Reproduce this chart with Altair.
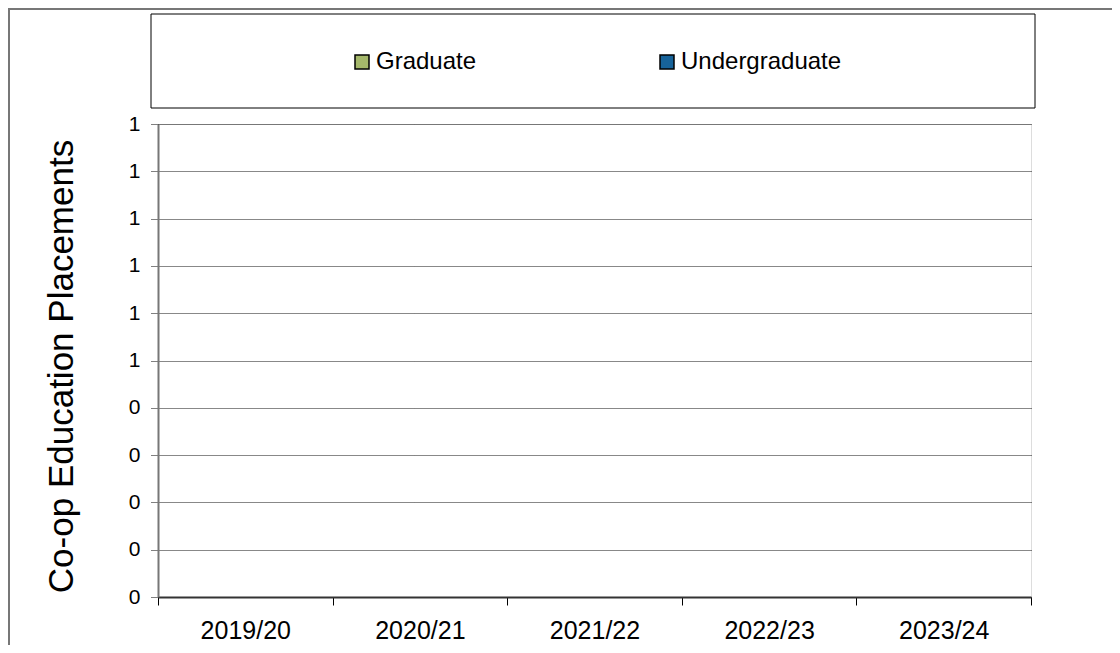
import altair as alt
import pandas as pd

years = ["2019/20", "2020/21", "2021/22", "2022/23", "2023/24"]
graduate = [0, 0, 0, 0, 0]
undergraduate = [0, 0, 0, 0, 0]
series = ["Graduate", "Undergraduate"]
colors = ["#A5B86B", "#17639A"]
y_ticks = [0, 0.1, 0.2, 0.3, 0.4, 0.5, 0.6, 0.7, 0.8, 0.9, 1.0]
y_title = "Co-op Education Placements"

rows = []
for i, yr in enumerate(years):
    rows.append({"year": yr, "level": series[0], "value": graduate[i], "o": 0})
    rows.append({"year": yr, "level": series[1], "value": undergraduate[i], "o": 1})
df = pd.DataFrame(rows)

FONT = "Liberation Sans"
W, H = 873, 473

bars = alt.Chart(df).mark_bar().encode(
    x=alt.X(
        "year:N",
        sort=years,
        scale=alt.Scale(paddingInner=0, paddingOuter=0),
        axis=alt.Axis(
            title=None, labelAngle=0, labelFont=FONT, labelFontSize=25, labelColor="black",
            labelPadding=13, tickBand="extent", tickSize=8, tickColor="black", tickWidth=1,
            domainColor="#333333", domainWidth=2, grid=False,
        ),
    ),
    y=alt.Y(
        "value:Q",
        stack="zero",
        scale=alt.Scale(domain=[0, 1], nice=False, zero=True),
        axis=alt.Axis(
            title=y_title, values=y_ticks,
            labelExpr="datum.value >= 0.5 ? '1' : '0'",
            labelFont=FONT, labelFontSize=21, labelColor="black", labelPadding=10,
            tickSize=8, tickColor="black", tickDash=[1, 1], tickWidth=1,
            grid=True, gridColor="#111111", gridDash=[1, 1], gridWidth=1,
            domainColor="#777777", domainWidth=2,
            titleFont=FONT, titleFontSize=35, titleFontWeight="normal", titleColor="black",
            titleX=-97, titleY=242, titleAngle=270, titleAlign="center", titleBaseline="middle",
        ),
    ),
    color=alt.Color(
        "level:N",
        scale=alt.Scale(domain=series, range=colors),
        legend=alt.Legend(
            title=None, orient="none", legendX=192, legendY=-74, direction="horizontal",
            symbolType="square", symbolSize=196, symbolStrokeColor="black", symbolStrokeWidth=1.5,
            symbolOpacity=1, labelFont=FONT, labelFontSize=24, labelColor="black",
            labelOffset=2, labelLimit=0, columnPadding=178, padding=0,
        ),
    ),
    order=alt.Order("o:Q"),
)

box_df = pd.DataFrame({"k": [0]})
legend_box = alt.Chart(box_df).mark_rect(fillOpacity=0, stroke="black", strokeWidth=1).encode(
    x=alt.value(-7), x2=alt.value(877), y=alt.value(-110), y2=alt.value(-16)
)
outer_box = alt.Chart(box_df).mark_rect(fillOpacity=0, stroke="#777777", strokeWidth=2).encode(
    x=alt.value(-149), x2=alt.value(1000), y=alt.value(-115), y2=alt.value(600)
)

chart = alt.layer(outer_box, legend_box, bars).properties(
    width=W, height=H,
    autosize=alt.AutoSizeParams(type="none"),
    padding={"left": 150, "top": 116, "right": 81, "bottom": 48},
).configure_view(stroke="black", strokeWidth=1).configure(background="white")

chart.save("out.html", embed_options={"renderer": "svg", "actions": False})
